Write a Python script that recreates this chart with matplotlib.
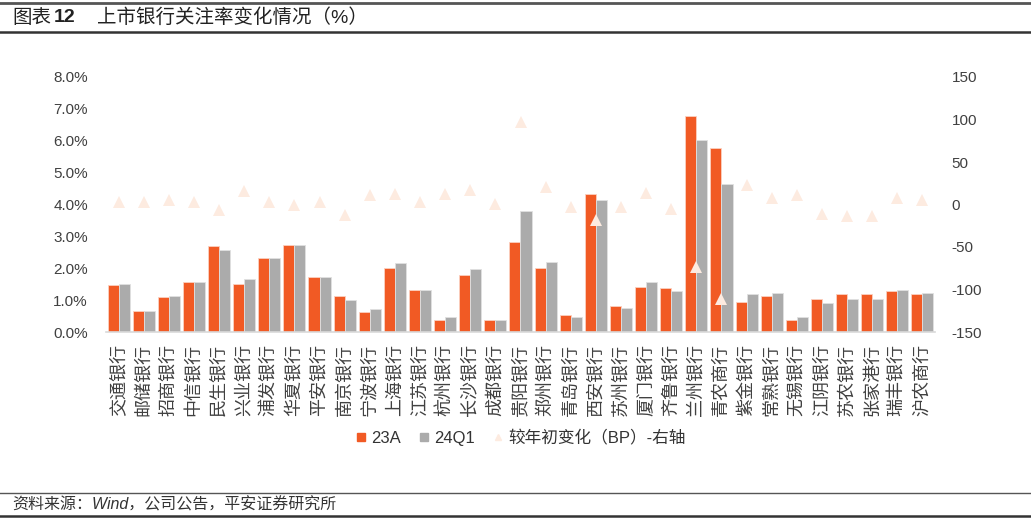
import matplotlib
matplotlib.use('Agg')
import matplotlib.pyplot as plt
from matplotlib.lines import Line2D
import numpy as np

plt.rcParams['font.family'] = ['Liberation Sans', 'Noto Sans CJK SC']
plt.rcParams['axes.unicode_minus'] = False

banks = ['交通银行', '邮储银行', '招商银行', '中信银行', '民生银行', '兴业银行', '浦发银行',
         '华夏银行', '平安银行', '南京银行', '宁波银行', '上海银行', '江苏银行', '杭州银行',
         '长沙银行', '成都银行', '贵阳银行', '郑州银行', '青岛银行', '西安银行', '苏州银行',
         '厦门银行', '齐鲁银行', '兰州银行', '青农商行', '紫金银行', '常熟银行', '无锡银行',
         '江阴银行', '苏农银行', '张家港行', '瑞丰银行', '沪农商行']

# 关注率 (%)
rate_23a = [1.46, 0.66, 1.09, 1.57, 2.69, 1.51, 2.31, 2.73, 1.73, 1.13, 0.63, 2.02, 1.32,
            0.39, 1.79, 0.39, 2.82, 2.02, 0.53, 4.32, 0.81, 1.41, 1.37, 6.79, 5.76, 0.95,
            1.13, 0.39, 1.04, 1.18, 1.18, 1.28, 1.18]
rate_24q1 = [1.51, 0.66, 1.13, 1.57, 2.58, 1.65, 2.31, 2.73, 1.73, 0.99, 0.71, 2.16, 1.32,
             0.48, 1.97, 0.39, 3.79, 2.20, 0.48, 4.13, 0.75, 1.57, 1.28, 6.03, 4.64, 1.18,
             1.23, 0.48, 0.90, 1.04, 1.04, 1.32, 1.23]
# 较年初变化 (BP)
change_bp = [3.5, 3.5, 5.5, 3.5, -6.7, 16, 3.5, 0, 3.5, -12, 10.6, 12.4, 3.5, 12.6, 17,
             0.5, 96.7, 21, -3.5, -18.3, -3.5, 14, -5.5, -73.7, -111, 22.8, 7.5, 10.6,
             -10.6, -14, -14, 7.5, 5.5]

orange = '#F15A24'
grey = '#ABABAB'
peach = '#FDEBE0'
text_c = '#404040'

fig = plt.figure(figsize=(10.31, 5.23), dpi=100)
ax = fig.add_axes([106 / 1031, 1 - 332 / 523, 829 / 1031, 255 / 523])

x = np.arange(len(banks))
w = 0.44
ax.bar(x - w / 2, rate_23a, w, color=orange, edgecolor='#FBD0C0', linewidth=0.6, zorder=2)
ax.bar(x + w / 2, rate_24q1, w, color=grey, edgecolor='#E0E0E0', linewidth=0.6, zorder=2)

ax.set_xlim(-0.5, len(banks) - 0.5)
ax.set_ylim(0, 8)
ax.set_yticks(np.arange(0, 9, 1))
ax.set_yticklabels([f'{v:.1f}%' for v in range(9)])
ax.set_xticks(x)
ax.set_xticklabels(banks, rotation=90, fontsize=13, color=text_c)
ax.tick_params(axis='x', length=0, pad=9)
ax.tick_params(axis='y', length=0, pad=13, labelsize=11, labelcolor=text_c)
for s in ['top', 'left', 'right']:
    ax.spines[s].set_visible(False)
ax.spines['bottom'].set_color('#D9D9D9')
ax.spines['bottom'].set_linewidth(1.2)

ax2 = ax.twinx()
ax2.plot(x, change_bp, linestyle='none', marker='^', markersize=9, color=peach,
         markeredgewidth=0, zorder=5)
ax2.set_ylim(-150, 150)
ax2.set_yticks(np.arange(-150, 151, 50))
ax2.tick_params(axis='y', length=0, pad=12, labelsize=11, labelcolor=text_c)
for s in ['top', 'left', 'right', 'bottom']:
    ax2.spines[s].set_visible(False)
ax.set_zorder(1)
ax2.set_zorder(2)

handles = [
    Line2D([], [], linestyle='none', marker='s', markersize=5.5, color=orange),
    Line2D([], [], linestyle='none', marker='s', markersize=5.5, color=grey),
    Line2D([], [], linestyle='none', marker='^', markersize=4.5, color=peach),
]
fig.legend(handles, ['23A', '24Q1', '较年初变化（BP）-右轴'], loc='center',
           bbox_to_anchor=(521 / 1031, 1 - 438 / 523), ncol=3, frameon=False,
           fontsize=12, handlelength=0.6, handletextpad=0.3, columnspacing=1.1,
           labelcolor='#333333')

# 标题与来源
ty = 1 - 18 / 523
fig.text(12 / 1031, ty, '图表', fontsize=14, va='center', ha='left', color='#222222')
fig.text(54 / 1031, ty, '12', fontsize=14, fontweight='bold', va='center', ha='left',
         color='#222222')
fig.text(97 / 1031, ty, '上市银行关注率变化情况（%）', fontsize=14, va='center', ha='left',
         color='#222222')
fig.text(12 / 1031, 1 - 505 / 523, '资料来源：Wind，公司公告，平安证券研究所', fontsize=11.5,
         style='italic', va='center', ha='left', color='#333333')

for yy, lw, c in [(3, 2.0, '#555555'), (32, 1.8, '#333333'), (493, 1.0, '#555555'), (516, 1.8, '#333333')]:
    fig.add_artist(Line2D([0, 1], [1 - yy / 523, 1 - yy / 523], transform=fig.transFigure,
                          color=c, linewidth=lw))

fig.savefig('out.png', dpi=100)
